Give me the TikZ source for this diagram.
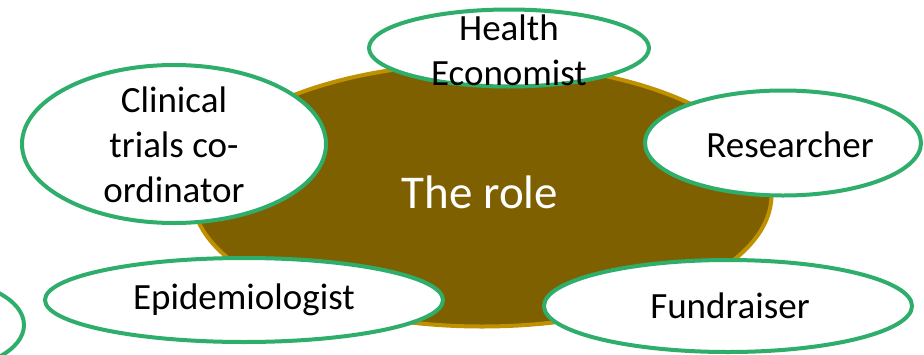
\documentclass[tikz,border=0pt]{standalone}
\usepackage{fontspec}
\setmainfont{Carlito}
\usetikzlibrary{shapes,calc,positioning}
\definecolor{rolefill}{HTML}{7F6000}
\definecolor{roleline}{HTML}{BF9000}
\definecolor{jobline}{HTML}{2EAD6B}

\begin{document}
\begin{tikzpicture}[x=1pt,y=-1pt]
	\tikzstyle{every node}=[font=\fontsize{37}{45}\selectfont, align=center, inner sep=0pt]
	\tikzstyle{job}=[ellipse, draw=jobline, line width=4pt, fill=white]
	\useasboundingbox (0,0) rectangle (924,354);
	% centre
	\node [ellipse, draw=roleline, fill=rolefill, line width=4pt, minimum width=579pt, minimum height=263pt] (role) at (482,195) {};
	\node [font=\fontsize{47}{56}\selectfont, white] (roletext) at (480,192) {The role};
	% jobs round it
	\node [job, minimum width=170pt, minimum height=90pt] (other) at (-61,325) {};
	\node [job, minimum width=280pt, minimum height=77pt] (econ) at (509,48) {};
	\node (econtext) at (509,50) {Health\\Economist};
	\node [job, minimum width=304pt, minimum height=158pt] (clin) at (174,144) {};
	\node (clintext) at (174,145) {Clinical\\trials co-\\ordinator};
	\node [job, minimum width=276pt, minimum height=105pt] (res) at (783,143) {};
	\node (restext) at (790,145) {Researcher};
	\node [job, minimum width=398pt, minimum height=84pt] (epi) at (244,300) {};
	\node (epitext) at (244,300) {Epidemiologist};
	\node [job, minimum width=368pt, minimum height=92pt] (fund) at (728,306) {};
	\node (fundtext) at (730,306) {Fundraiser};
\end{tikzpicture}
\end{document}
